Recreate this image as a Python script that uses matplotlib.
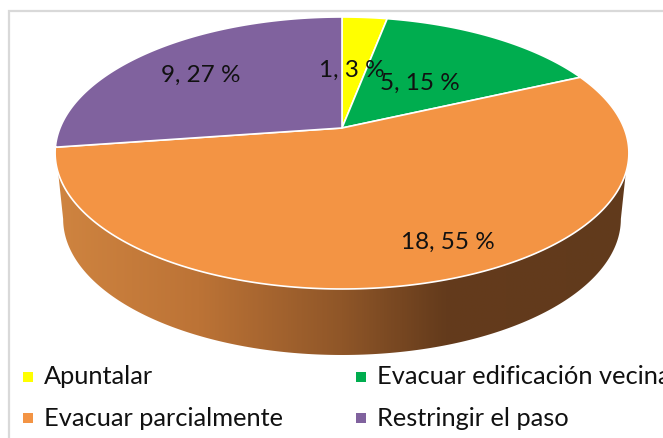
import numpy as np
import matplotlib
matplotlib.use("Agg")
import matplotlib.pyplot as plt
from matplotlib.patches import Polygon, Rectangle
from matplotlib.colors import LinearSegmentedColormap

# Data
categories = ["Apuntalar", "Evacuar edificación vecina", "Evacuar parcialmente", "Restringir el paso"]
values = [1, 5, 18, 9]
percent_labels = ["3 %", "15 %", "55 %", "27 %"]
colors = ["#FFFF00", "#00AD4F", "#F39444", "#80629E"]

# Layout in pixels (y grows downward)
W, H = 663, 438
CX, CY = 342, 128      # apex of the pie
A, B, K = 131.4, 282.0, 0.1838   # perspective parameters of the top face
DEPTH, LOW_SX = 66, 0.972

label_xy = [(352, 70), (420, 83), (448, 242), (201, 75)]
legend_xy = [(28, 377), (361, 377), (28, 418), (361, 418)]


def rim(theta_deg, sx=1.0, dy=0.0):
    t = np.radians(theta_deg)
    w = 1 + K * np.cos(t)
    return CX + sx * B * np.sin(t) / w, CY + dy - A * np.cos(t) / w


fig = plt.figure(figsize=(W / 100, H / 100), dpi=100, facecolor="white")
ax = fig.add_axes([0, 0, 1, 1])
ax.set_xlim(0, W)
ax.set_ylim(H, 0)
ax.axis("off")

ax.add_patch(Rectangle((9, 11), 800, 800, fc="white", ec="#D9D9D9", lw=1.6, zorder=0))

# Side wall (front of the largest slice)
up = np.linspace(108.8, 251.2, 200)
low = np.linspace(259.4, 100.6, 200)
ux, uy = rim(up)
lx, ly = rim(low, LOW_SX, DEPTH)
side = Polygon(np.column_stack([np.r_[ux, lx], np.r_[uy, ly]]), closed=True, fc="none", ec="none")
ax.add_patch(side)
cmap = LinearSegmentedColormap.from_list(
    "side",
    [(0.0, "#CF8440"), (0.25, "#BC7336"), (0.5, "#8F5628"), (0.68, "#643B1C"), (1.0, "#613A1C")],
)
im = ax.imshow(np.linspace(0, 1, 600)[None, :], extent=(55, 629, 360, 150), cmap=cmap,
               aspect="auto", zorder=1, interpolation="bilinear")
im.set_clip_path(side)
ax.set_xlim(0, W)
ax.set_ylim(H, 0)

# Top face
cum = np.r_[0, np.cumsum(values)] / np.sum(values) * 360
for start, end, col in zip(cum[:-1], cum[1:], colors):
    th = np.linspace(start, end, 200)
    x, y = rim(th)
    ax.add_patch(Polygon(np.column_stack([np.r_[CX, x], np.r_[CY, y]]), closed=True,
                         fc=col, ec="white", lw=1.2, joinstyle="round", zorder=2))

font = ["Lato", "DejaVu Sans"]
for (x, y), v, p in zip(label_xy, values, percent_labels):
    ax.text(x, y, f"{v}, {p}", ha="center", va="center", fontsize=17.5, color="#111111",
            family=font, zorder=3)

for (x, y), name, col in zip(legend_xy, categories, colors):
    ax.add_patch(Rectangle((x - 5, y - 5), 10, 10, fc=col, ec="none", zorder=3))
    ax.text(x + 16, y, name, ha="left", va="center", fontsize=18.3, color="#111111",
            family=font, zorder=3)

fig.savefig("out.png", dpi=100, facecolor="white")
